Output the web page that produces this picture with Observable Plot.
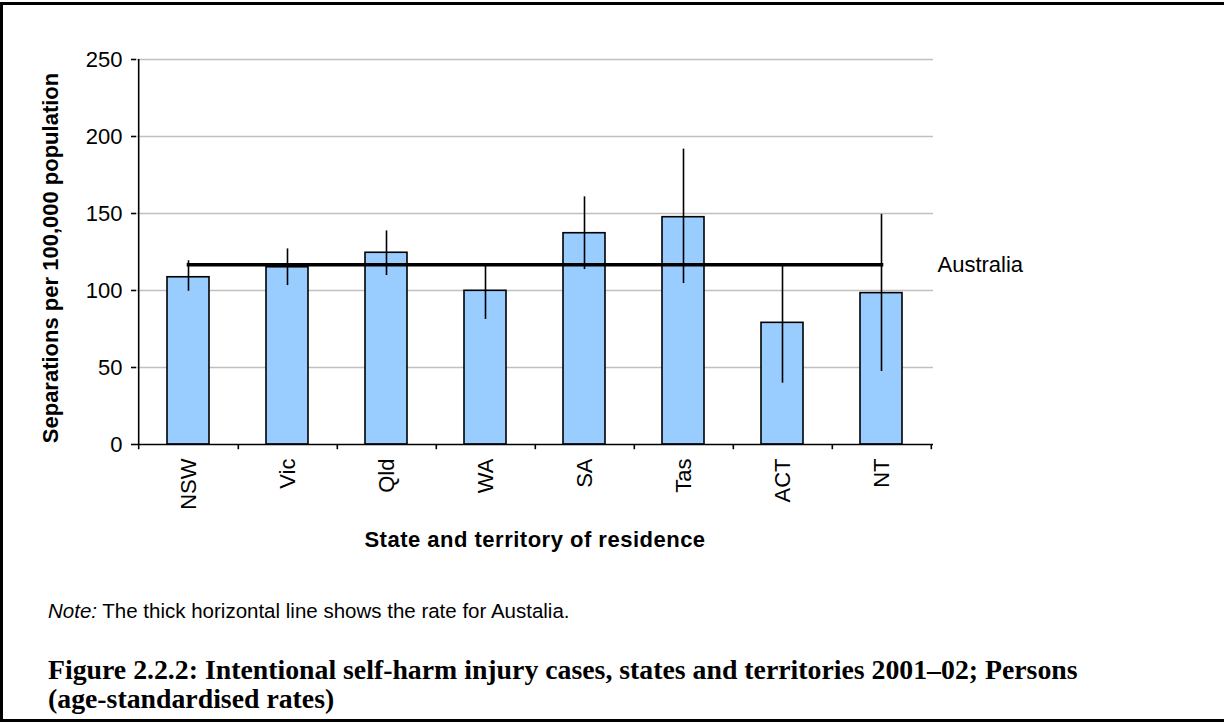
<!DOCTYPE html>
<html>
<head>
<meta charset="utf-8">
<script src="https://cdn.jsdelivr.net/npm/d3@7"></script>
<script src="https://cdn.jsdelivr.net/npm/@observablehq/plot@0.6"></script>
<style>
  html, body { margin: 0; padding: 0; background: #fff; overflow: hidden; }
  body { width: 1224px; height: 724px; position: relative; }
  #frame { position: absolute; left: 0; top: 2px; width: 1240px; height: 720px; border: 3px solid #000; box-sizing: border-box; }
  #chart { position: absolute; left: 0; top: 0; }
  #note { position: absolute; left: 48px; top: 599px; font-family: "Liberation Sans", Arial, sans-serif; font-size: 20.5px; line-height: normal; color: #000; white-space: nowrap; }
  #caption { position: absolute; left: 48px; top: 655px; font-family: "Liberation Serif", "Times New Roman", serif; font-weight: bold; font-size: 25px; line-height: 29px; color: #000; white-space: nowrap; }
</style>
</head>
<body>
<div id="frame"></div>
<div id="chart"></div>
<div id="note"><i>Note:</i> The thick horizontal line shows the rate for Austalia.</div>
<div id="caption"><span id="cap1">Figure 2.2.2: Intentional self-harm injury cases, states and territories 2001–02; Persons</span><br>(age-standardised rates)</div>
<script>
const states = ["NSW", "Vic", "Qld", "WA", "SA", "Tas", "ACT", "NT"];
const rates = [108.6, 115.1, 124.5, 99.8, 137.2, 147.6, 79.0, 98.3];
const lower = [99.5, 103.2, 109.7, 81.2, 113.6, 104.5, 39.8, 47.4];
const upper = [119.3, 127.0, 138.7, 116.0, 160.8, 191.8, 116.2, 149.4];
const australia = 116.7;
const australiaLabel = "Australia";
const yTicks = [0, 50, 100, 150, 200, 250];
const yLabel = "Separations per 100,000 population";
const xLabel = "State and territory of residence";

const data = states.map((s, i) => ({state: s, rate: rates[i], lo: lower[i], hi: upper[i]}));
const ausLine = [{state: states[0], v: australia}, {state: states[states.length - 1], v: australia}];

const W = 1224, H = 560, mL = 136, mR = 291, mT = 59, mB = 116;
const step = (W - mL - mR) / states.length;
const font = "'Liberation Sans', Arial, sans-serif";

const chart = Plot.plot({
  width: W, height: H,
  marginLeft: mL, marginRight: mR, marginTop: mT, marginBottom: mB,
  style: {fontFamily: font, fontSize: "22px", color: "#000", background: "transparent", overflow: "visible"},
  x: {domain: states, paddingInner: 0.58, paddingOuter: 0.29, axis: null},
  y: {domain: [0, 250], axis: null},
  marks: [
    Plot.ruleY(yTicks.filter(t => t > 0), {stroke: "#c0c0c0", strokeWidth: 1.3}),
    Plot.barY(data, {x: "state", y: "rate", fill: "#99ccff", stroke: "#000", strokeWidth: 1.6}),
    Plot.ruleX(data, {x: "state", y1: "lo", y2: "hi", stroke: "#000", strokeWidth: 1.6}),
    Plot.line(ausLine, {x: "state", y: "v", stroke: "#000", strokeWidth: 3.6, strokeLinecap: "square"}),
    Plot.text([australiaLabel], {x: () => states[states.length - 1], y: () => australia, text: d => d, dx: 56, textAnchor: "start", fontSize: 22}),
    Plot.ruleY([0], {stroke: "#000", strokeWidth: 1.6}),
    Plot.ruleX([states[0]], {x: d => d, dx: -step / 2, y1: -3.4, y2: 250, stroke: "#000", strokeWidth: 1.6}),
    Plot.ruleX(states, {x: d => d, dx: step / 2, y1: -3.4, y2: 0, stroke: "#000", strokeWidth: 1.6}),
    Plot.axisY({ticks: yTicks, tickSize: 5, tickPadding: 9, label: null, strokeWidth: 1.6, fontSize: 22}),
    Plot.axisX({tickRotate: -90, tickSize: 0, tickPadding: 14, label: null, fontSize: 22}),
    Plot.text([yLabel], {text: d => d, frameAnchor: "left", textAnchor: "middle", lineAnchor: "middle", rotate: -90, dx: -86, dy: 6, fontWeight: "bold", fontSize: 22}),
    Plot.text([xLabel], {text: d => d, frameAnchor: "bottom", textAnchor: "middle", lineAnchor: "middle", dy: 95, fontWeight: "bold", fontSize: 22})
  ]
});
document.getElementById("chart").appendChild(chart);

// slight letter spacing on x label, as in the original
chart.querySelectorAll("text").forEach(t => {
  if (t.textContent === xLabel) t.setAttribute("letter-spacing", "0.5");
});

// fit caption first line to the original width
const cap1 = document.getElementById("cap1");
const target = 1030;
const w = cap1.getBoundingClientRect().width;
if (w > 0) {
  const fs = 25 * target / w;
  document.getElementById("caption").style.fontSize = fs.toFixed(2) + "px";
}
</script>
</body>
</html>
